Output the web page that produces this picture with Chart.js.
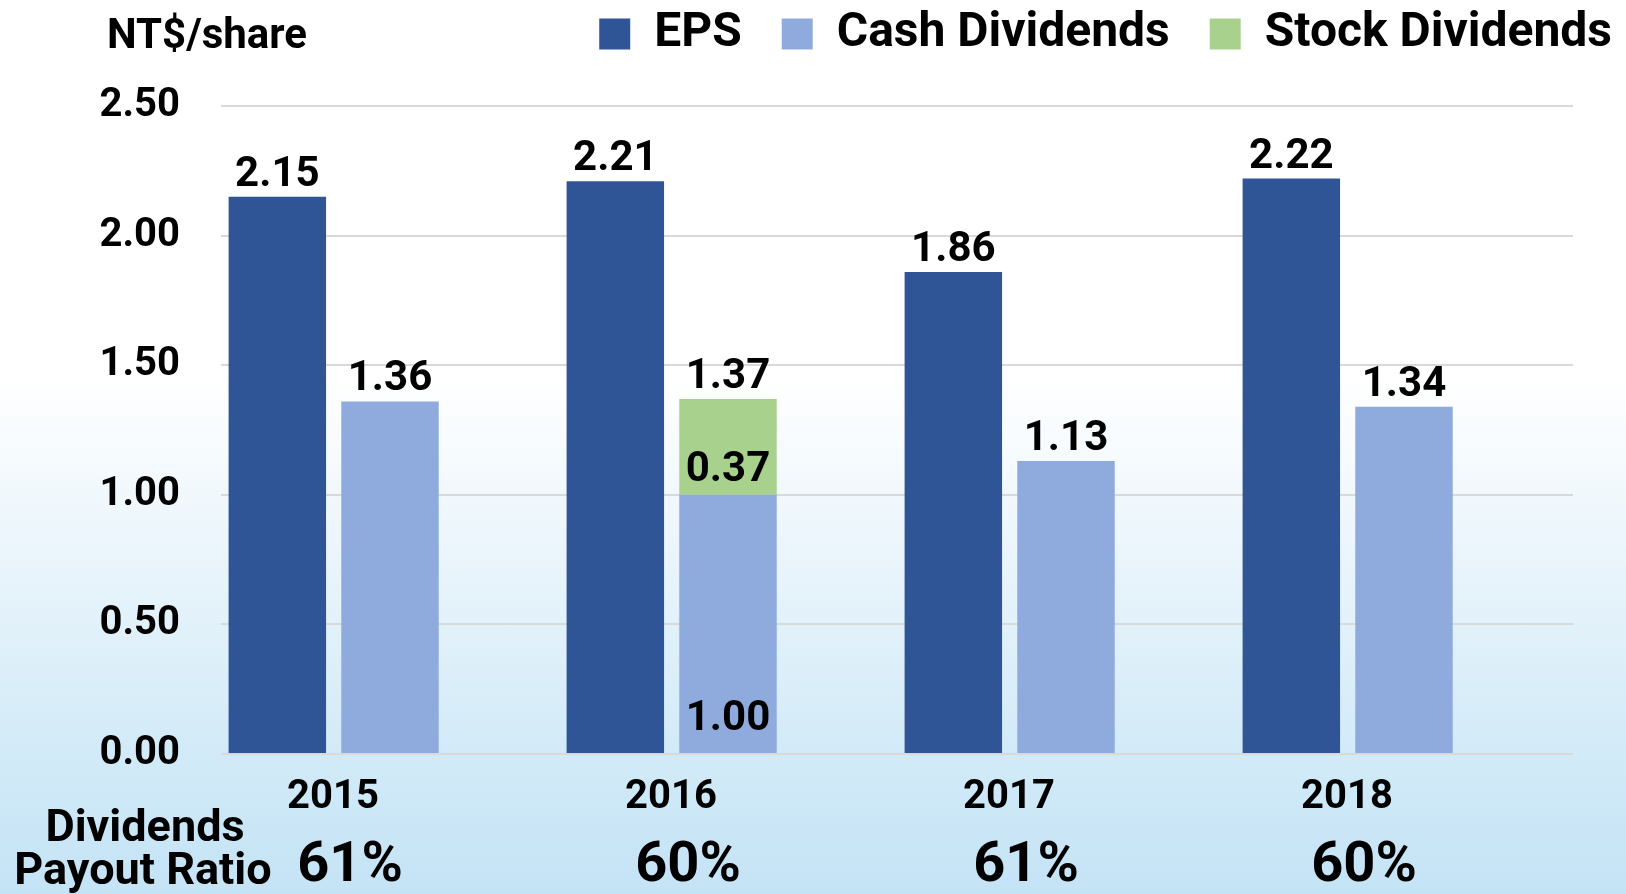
<!DOCTYPE html>
<html lang="en">
<head>
    <meta charset="UTF-8">
    <title>EPS and Dividends</title>
    <script src="https://cdn.jsdelivr.net/npm/chart.js"></script>
    <style>
        body {
            margin: 0;
            width: 1626px;
            height: 894px;
            overflow: hidden;
            background: linear-gradient(to bottom, #ffffff 0%, #ffffff 42%, #e8f4fb 64%, #d3ebf8 83%, #c4e3f5 100%);
        }
        #box { width: 1626px; height: 894px; }
    </style>
</head>
<body>
<div id="box"><canvas id="divChart"></canvas></div>
<script>
    // values
    const years = ['2015', '2016', '2017', '2018'];
    const eps = [2.15, 2.21, 1.86, 2.22];
    const cashDividends = [1.36, 1.00, 1.13, 1.34];
    const stockDividends = [null, 0.37, null, null];
    const payoutRatios = ['61%', '60%', '61%', '60%'];
    const yTicks = [0, 0.5, 1, 1.5, 2, 2.5];

    const FONT = 'Roboto';

    // legend sits in the top band, chart area starts at y=107
    const legendHeight = {
        id: 'legendHeight',
        beforeInit(chart) {
            const fit = chart.legend.fit;
            chart.legend.fit = function () {
                fit.bind(chart.legend)();
                this.height = 136;
            };
        }
    };

    // numbers above / inside the bars, plus the side texts
    const valueLabels = {
        id: 'valueLabels',
        afterDatasetsDraw(chart) {
            const ctx = chart.ctx;
            ctx.save();
            ctx.fillStyle = '#000';
            ctx.textAlign = 'center';
            ctx.textBaseline = 'alphabetic';
            ctx.font = 'bold 42px ' + FONT;

            const epsMeta = chart.getDatasetMeta(0);
            epsMeta.data.forEach((bar, i) => {
                ctx.fillText(eps[i].toFixed(2), bar.x, bar.y - 11);
            });

            const cashMeta = chart.getDatasetMeta(1);
            const stockMeta = chart.getDatasetMeta(2);
            cashMeta.data.forEach((bar, i) => {
                const stock = stockDividends[i];
                if (stock) {
                    const top = stockMeta.data[i];
                    ctx.fillText((cashDividends[i] + stock).toFixed(2), top.x, top.y - 11);
                    ctx.fillText(stock.toFixed(2), top.x, top.base - 14);
                    ctx.fillText(cashDividends[i].toFixed(2), bar.x, bar.base - 23);
                } else {
                    ctx.fillText(cashDividends[i].toFixed(2), bar.x, bar.y - 11);
                }
            });

            // unit + row caption
            ctx.font = 'bold 42px ' + FONT;
            ctx.textAlign = 'left';
            ctx.textBaseline = 'middle';
            ctx.fillText('NT$/share', 107, 37);

            ctx.font = 'bold 45px ' + FONT;
            ctx.textAlign = 'center';
            ctx.fillText('Dividends', 145, 830);
            ctx.fillText('Payout Ratio', 143, 873);
            ctx.restore();
        }
    };

    const ctx = document.getElementById('divChart').getContext('2d');
    new Chart(ctx, {
        type: 'bar',
        data: {
            labels: years,
            datasets: [
                { label: 'EPS', data: eps, backgroundColor: '#2F5597', stack: 'eps' },
                { label: 'Cash Dividends', data: cashDividends, backgroundColor: '#8FAADC', stack: 'div' },
                { label: 'Stock Dividends', data: stockDividends, backgroundColor: '#A9D18E', stack: 'div' },
                // empty third slot, keeps the pair left of the category centre like the original
                { label: 'pad', data: [null, null, null, null], stack: 'pad' }
            ]
        },
        options: {
            responsive: true,
            maintainAspectRatio: false,
            animation: false,
            categoryPercentage: 1.0,
            barPercentage: 0.865,
            layout: { padding: { top: -30, right: -26, left: 0, bottom: 0 } },
            plugins: {
                tooltip: { enabled: false },
                legend: {
                    position: 'top',
                    align: 'end',
                    labels: {
                        boxWidth: 31,
                        boxHeight: 31,
                        padding: 40,
                        color: '#000',
                        font: { family: FONT, size: 48, weight: 'bold' },
                        filter: item => item.text !== 'pad'
                    }
                }
            },
            scales: {
                x: {
                    weight: 0,
                    grid: { display: false, drawTicks: false },
                    border: { display: false },
                    ticks: {
                        color: '#000',
                        padding: 20,
                        labelOffset: -57,
                        font: { family: FONT, size: 40, weight: 'bold', lineHeight: 1.2 }
                    },
                    afterFit: s => { s.height = 68; }
                },
                x2: {
                    type: 'category',
                    position: 'bottom',
                    weight: 1,
                    labels: payoutRatios,
                    offset: true,
                    grid: { display: false, drawTicks: false },
                    border: { display: false },
                    ticks: {
                        color: '#000',
                        padding: 17,
                        labelOffset: -40,
                        font: { family: FONT, size: 56, weight: 'bold', lineHeight: 1 }
                    },
                    afterFit: s => { s.height = 72; }
                },
                y: {
                    stacked: true,
                    min: 0,
                    max: 2.5,
                    afterBuildTicks: s => { s.ticks = yTicks.map(v => ({ value: v })); },
                    grid: { color: '#D9D9D9', lineWidth: 2, drawTicks: false },
                    border: { display: false },
                    ticks: {
                        color: '#000',
                        padding: 41,
                        font: { family: FONT, size: 40, weight: 'bold' },
                        callback: v => Number(v).toFixed(2)
                    },
                    afterFit: s => { s.width = 221; }
                },
                yRight: {
                    position: 'right',
                    display: true,
                    grid: { display: false, drawTicks: false },
                    border: { display: false },
                    ticks: { display: false },
                    afterFit: s => { s.width = 79; }
                }
            }
        },
        plugins: [legendHeight, valueLabels]
    });
</script>
</body>
</html>
